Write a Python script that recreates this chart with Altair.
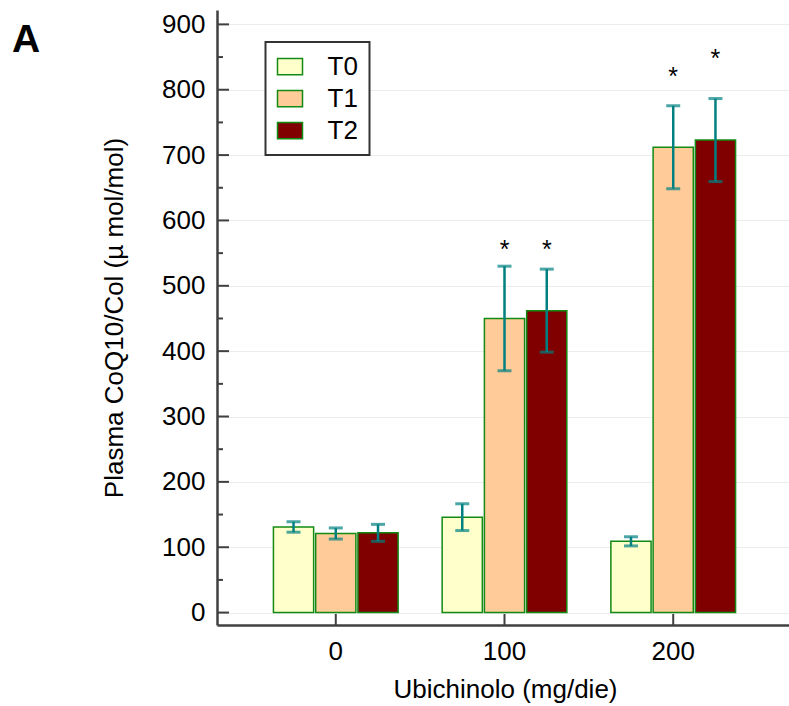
import altair as alt
import pandas as pd

# ---- data ----
doses = ["0", "100", "200"]
groups = ["T0", "T1", "T2"]
mean_t0 = [131, 146, 109]
mean_t1 = [121, 450, 712]
mean_t2 = [122, 462, 723]
err_t0 = [8, 20.5, 7]
err_t1 = [8.5, 80, 63.5]
err_t2 = [13, 63.5, 63.5]
star_dose = ["100", "100", "200", "200"]
star_group = ["T1", "T2", "T1", "T2"]
star_y = [564, 564, 828, 856]
y_major = [0, 100, 200, 300, 400, 500, 600, 700, 800, 900]
y_minor = [50, 150, 250, 350, 450, 550, 650, 750, 850]
colors = ["#FFFFCC", "#FFCC99", "#800000"]

rows = []
for g, means, errs in zip(groups, [mean_t0, mean_t1, mean_t2], [err_t0, err_t1, err_t2]):
    for d, m, e in zip(doses, means, errs):
        rows.append({"dose": d, "group": g, "mean": m, "lo": m - e, "hi": m + e})
df = pd.DataFrame(rows)
stars = pd.DataFrame({"dose": star_dose, "group": star_group, "y": star_y})

FONT = "Liberation Sans"
AXC = "#404040"
GREEN = "#138a13"
TEAL = "#008080"

xs = alt.Scale(domain=doses, range=[0, 575], paddingInner=0.261, paddingOuter=0.3345)
xo = alt.Scale(domain=groups, paddingInner=0.0485, paddingOuter=0)
ys = alt.Scale(domain=[-19, 922], nice=False, zero=False)

x_axis = alt.Axis(
    title="Ubichinolo (mg/die)", labelAngle=0, ticks=False, tickSize=0,
    labelFont=FONT, labelFontSize=26, labelColor="black",
    labelBaseline="alphabetic", labelPadding=34,
    titleFont=FONT, titleFontSize=26, titleFontWeight="normal", titleColor="black",
    titleX=288, titleY=72, titleBaseline="alphabetic", titleAlign="center",
    domainColor=AXC, domainWidth=2.5, grid=False,
)
y_axis = alt.Axis(
    title="Plasma CoQ10/Col (µ mol/mol)", values=y_major, ticks=False, tickSize=0,
    labelFont=FONT, labelFontSize=26, labelColor="black", labelPadding=12,
    titleFont=FONT, titleFontSize=26, titleFontWeight="normal", titleColor="black",
    titleX=-95, titleY=307.5, titleAngle=270, titleBaseline="alphabetic", titleAlign="center",
    domainColor=AXC, domainWidth=2.5,
    grid=True, gridColor="#ececec", gridWidth=1,
)
legend = alt.Legend(
    title=None, orient="none", legendX=48.5, legendY=32,
    fillColor="white", strokeColor="#333333", padding=11,
    symbolType="M-1,-0.65H1V0.65H-1Z", symbolSize=625,
    symbolStrokeColor=GREEN, symbolStrokeWidth=1.5, symbolOpacity=1,
    labelFont=FONT, labelFontSize=26, labelColor="black", labelOffset=24,
    rowPadding=5, labelExpr="datum.label + '   '",
)

X = alt.X("dose:N", scale=xs, sort=doses, axis=x_axis)
XO = alt.XOffset("group:N", scale=xo, sort=groups)


def Y(field):
    return alt.Y(field, scale=ys, axis=y_axis)


bars = alt.Chart(df).mark_bar(stroke=GREEN, strokeWidth=1.5).encode(
    x=X, xOffset=XO, y=Y("mean:Q"), y2=alt.datum(0),
    fill=alt.Fill("group:N", scale=alt.Scale(domain=groups, range=colors), legend=legend),
)

err = alt.Chart(df).mark_rule(color=TEAL, strokeWidth=2.5).encode(
    x=X, xOffset=XO, y=Y("lo:Q"), y2="hi:Q",
)
cap_lo = alt.Chart(df).mark_tick(color=TEAL, size=14, thickness=3).encode(
    x=X, xOffset=XO, y=Y("lo:Q"),
)
cap_hi = alt.Chart(df).mark_tick(color=TEAL, size=14, thickness=3).encode(
    x=X, xOffset=XO, y=Y("hi:Q"),
)
star_text = alt.Chart(stars).mark_text(
    text="*", font=FONT, fontSize=25, color="black", baseline="alphabetic", dy=14
).encode(x=X, xOffset=XO, y=Y("y:Q"))

# inward axis ticks, placed through the scales
ymaj = alt.Chart(pd.DataFrame({"t": y_major})).mark_rule(color=AXC, strokeWidth=2).encode(
    x=alt.value(0), x2=alt.value(12), y=Y("t:Q")
)
ymin = alt.Chart(pd.DataFrame({"t": y_minor})).mark_rule(color=AXC, strokeWidth=2).encode(
    x=alt.value(0), x2=alt.value(6), y=Y("t:Q")
)
xtk = alt.Chart(pd.DataFrame({"dose": doses})).mark_rule(color=AXC, strokeWidth=2).encode(
    x=X, y=alt.value(615), y2=alt.value(604)
)

panel = alt.Chart(pd.DataFrame({"t": ["A"]})).mark_text(
    font=FONT, fontSize=39, fontWeight="bold", align="left", baseline="alphabetic", color="black"
).encode(text="t:N", x=alt.value(-205), y=alt.value(42))

chart = alt.layer(
    bars, err, cap_lo, cap_hi, star_text, ymaj, ymin, xtk, panel
).properties(
    width=571, height=615,
    autosize=alt.AutoSizeParams(type="none"),
    padding={"left": 217, "top": 10, "right": 1, "bottom": 81},
).configure(background="white").configure_view(stroke=None).configure_legend(strokeWidth=2)

chart.save("out.html", embed_options={"renderer": "svg", "actions": False})
